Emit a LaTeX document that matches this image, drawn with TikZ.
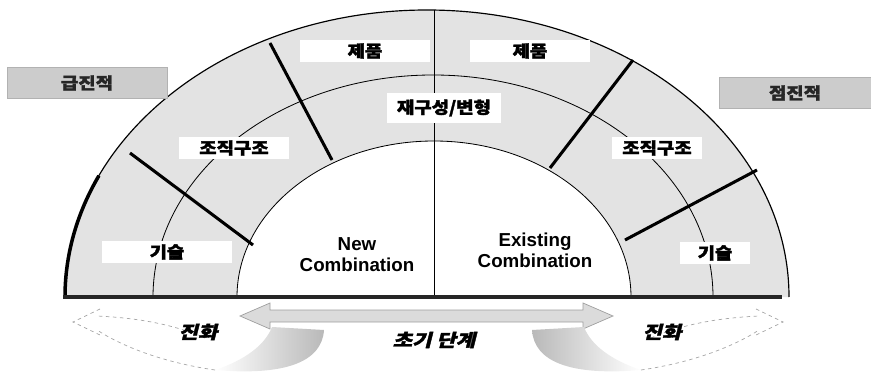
\documentclass[tikz,border=0pt]{standalone}
\usepackage{fontspec}
\setmainfont{Liberation Sans}
\newfontfamily\kr{Noto Sans CJK KR}[FakeStretch=1.15,FakeBold=2]
\newfontfamily\krit{Noto Sans CJK KR}[FakeStretch=1.2,FakeSlant=0.25,FakeBold=2]
\usetikzlibrary{positioning}

\begin{document}
\begin{tikzpicture}[x=0.03cm, y=-0.03cm,
  band/.style={fill=gray!22},
  arcline/.style={line width=0.7pt},
  divider/.style={line width=2.6pt},
  lbl/.style={fill=white, inner sep=0pt, minimum height=0.66cm,
    font=\kr\bfseries\fontsize{14}{16}\selectfont},
  side/.style={fill=gray!40, draw=gray!60, inner sep=0pt, minimum height=0.93cm,
    text=black!85, font=\kr\bfseries\fontsize{14}{16}\selectfont},
  combo/.style={align=center, font=\bfseries\fontsize{16}{18}\selectfont},
  evo/.style={font=\krit\bfseries\fontsize{15}{17}\selectfont},
  dblarrow/.style={fill=gray!28, draw=gray!75, line width=0.6pt},
  trail/.style={draw=gray!70, dashed, line width=0.6pt},
]
\useasboundingbox (0,0) rectangle (871,372);

% Half ring
\fill[band] (65,297) arc[start angle=180, end angle=360, x radius=362, y radius=287]
  -- (631,297) arc[start angle=360, end angle=180, x radius=197, y radius=156] -- cycle;
\draw[line width=1pt] (65,297) arc[start angle=180, end angle=360, x radius=362, y radius=287];
\draw[line width=3pt] (65,297) arc[start angle=180, end angle=205, x radius=362, y radius=287];
\draw[arcline] (153,297) arc[start angle=180, end angle=360, x radius=280, y radius=222];
\draw[arcline] (237,297) arc[start angle=180, end angle=360, x radius=197, y radius=156];
\draw[arcline] (434,10) -- (434,297);

% Dividers
\draw[divider] (130,153) -- (253,245);
\draw[divider] (270,43) -- (332,160);
\draw[divider] (633,60) -- (550,168);
\draw[divider] (757,170) -- (625,240);

% Base line
\draw[line width=3.6pt, black!85] (63,297) -- (782,297);

% Ring labels
\node[lbl, minimum width=3.9cm] (prodL) at (365,51) {제품};
\node[lbl, minimum width=3.6cm] (prodR) at (530,51) {제품};
\node[lbl, minimum width=3.4cm, minimum height=0.9cm] (recon) at (444,108) {재구성/변형};
\node[lbl, minimum width=3.3cm] (orgL) at (234,148) {조직구조};
\node[lbl, minimum width=2.7cm] (orgR) at (657,148) {조직구조};
\node[lbl, minimum width=3.9cm] (techL) at (167,252) {기술};
\node[lbl, minimum width=2.1cm] (techR) at (715,253) {기술};

% Inner labels
\node[combo] (newc) at (357,255) {New\\Combination};
\node[combo] (exic) at (535,250) {Existing\\Combination};

% Side boxes
\node[side, minimum width=4.8cm] (radical) at (87,83) {급진적};
\node[side, minimum width=4.56cm] (gradual) at (795,93) {점진적};

% Early stage arrow
\filldraw[dblarrow] (240,316) -- (270,303) -- (270,310) -- (583,310) -- (583,303)
  -- (613,316) -- (583,329) -- (583,322) -- (270,322) -- (270,329) -- cycle;

% Evolution, left
\shade[left color=white, right color=gray!55] (272,327) -- (324,330)
  .. controls (322,362) and (285,376) .. (215,370)
  .. controls (245,360) and (265,345) .. (272,327) -- cycle;
\draw[trail] (215,370) .. controls (160,362) and (120,345) .. (97,330);
\draw[trail] (205,338) .. controls (175,325) and (140,318) .. (97,316);
\draw[trail] (100,309) -- (73,322) -- (100,335);

% Evolution, right
\shade[left color=gray!55, right color=white] (584,327) -- (532,330)
  .. controls (534,362) and (571,376) .. (641,370)
  .. controls (611,360) and (591,345) .. (584,327) -- cycle;
\draw[trail] (641,370) .. controls (696,362) and (736,345) .. (759,330);
\draw[trail] (651,338) .. controls (681,325) and (716,318) .. (759,316);
\draw[trail] (756,309) -- (783,322) -- (756,335);

% Bottom labels
\node[evo] (evoL) at (198,332) {진화};
\node[evo] (early) at (434,340) {초기 단계};
\node[evo] (evoR) at (662,332) {진화};

\end{tikzpicture}
\end{document}
